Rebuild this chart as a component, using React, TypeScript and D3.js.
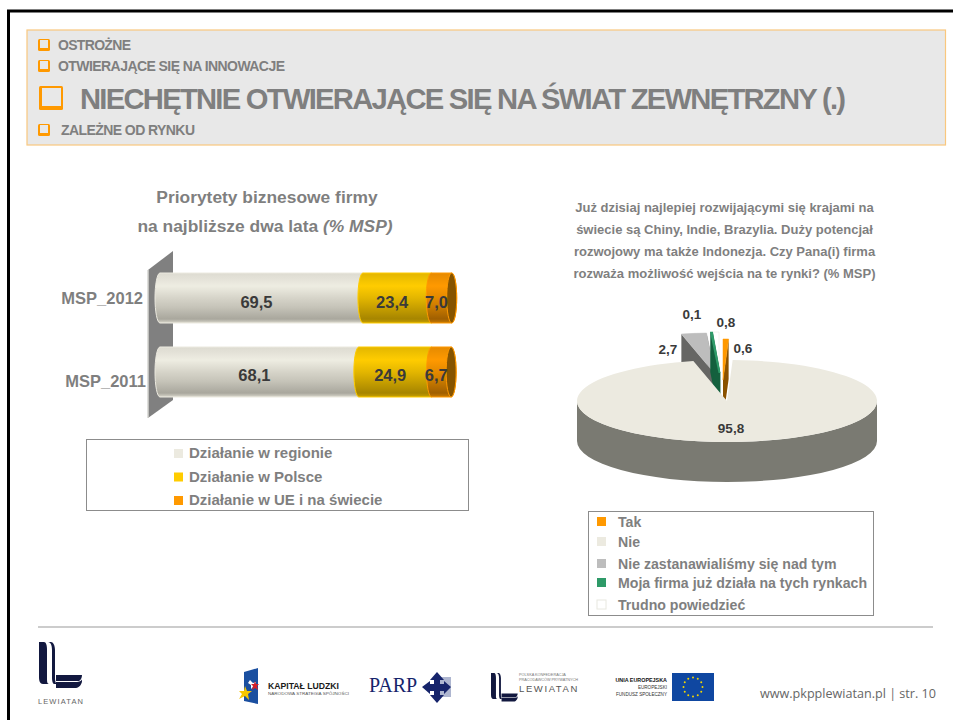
import React from "react";
import * as d3 from "d3";

const FONT = "'Liberation Sans', Arial, sans-serif";
const GREY = "#7f7f7f";
const DARK = "#3a3a3a";

// ---------- data ----------
const barCategories = ["MSP_2012", "MSP_2011"];
const barSeriesNames = ["Działanie w regionie", "Działanie w Polsce", "Działanie w UE i na świecie"];
const regionValues = [69.5, 68.1];
const polandValues = [23.4, 24.9];
const worldValues = [7.0, 6.7];

const pieNames = ["Tak", "Nie", "Nie zastanawialiśmy się nad tym", "Moja firma już działa na tych rynkach", "Trudno powiedzieć"];
const pieValues = [0.6, 95.8, 2.7, 0.1, 0.8];
const pieTopColors = ["#ff9900", "#eceae0", "#bdbdbd", "#2e9a68", "#ffffff"];
const pieSideColors = ["#8a5200", "#7a7a72", "#666664", "#14603e", "#eeeeee"];
const pieOffsets: [number, number][] = [[-4, -21], [0, 0], [-12, -27], [-7.5, -28], [-8, -28]];
const pieLabelPositions: [number, number][] = [[743, 348], [731, 428], [668, 349], [692, 314], [726, 322]];
const explodedOrder = [2, 4, 3, 0];

const headerLines = [
  { text: "OSTROŻNE", x: 58, end: 131, y: 50, size: 14, box: [38, 39, 12] },
  { text: "OTWIERAJĄCE SIĘ NA INNOWACJE", x: 58, end: 285, y: 71, size: 14, box: [38, 60, 12] },
  { text: "NIECHĘTNIE OTWIERAJĄCE SIĘ NA ŚWIAT ZEWNĘTRZNY (.)", x: 80, end: 846, y: 109, size: 29.2, box: [39, 86, 24] },
  { text: "ZALEŻNE OD RYNKU", x: 61, end: 195, y: 135, size: 14, box: [38, 124, 12] },
];
const rightTitle = [
  "Już dzisiaj najlepiej rozwijającymi się krajami na",
  "świecie są Chiny, Indie, Brazylia. Duży potencjał",
  "rozwojowy ma także Indonezja. Czy Pana(i) firma",
  "rozważa możliwość wejścia na te rynki? (% MSP)",
];
const barLegendColors = ["#eceae0", "#ffcc00", "#ff9900"];

// ---------- layout ----------
const x = d3.scaleLinear().domain([0, 100]).range([160, 452]);
const y = d3.scaleBand().domain(barCategories).range([273, 397]).paddingInner(0.324);
const capRx = 5;
const grads = [
  { id: "gGrey", stops: ["#dddbd1", "#e3e1d7", "#eeede2", "#d6d4c9", "#c6c4b9", "#a9a79d", "#d9d7cc"] },
  { id: "gYellow", stops: ["#e3b500", "#edbf00", "#ffcc00", "#e3b600", "#c9a100", "#a68500", "#c9a100"] },
  { id: "gOrange", stops: ["#e68a00", "#ef9000", "#ff9900", "#e38900", "#c97a00", "#a05f00", "#c97a00"] },
];
const gradOffsets = ["0%", "10%", "26%", "50%", "68%", "92%", "100%"];

const cx = 727, cy = 401, rx = 150, ry = 41, depth = 40;
const slices = d3.pie<number>().sort(null).startAngle(0).endAngle(2 * Math.PI)(pieValues);
const arcTop = d3.arc<d3.PieArcDatum<number>>().innerRadius(0).outerRadius(rx);
const px = (a: number) => cx + rx * Math.sin(a);
const py = (a: number) => cy - ry * Math.cos(a);

function wedgeSide(a: number, apexDepth: number) {
  const ex = px(a), ey = py(a);
  return `M${cx},${cy}L${ex},${ey}L${ex},${ey + apexDepth}L${cx},${cy + apexDepth}Z`;
}

function Bullet({ bx, by, s }: { bx: number; by: number; s: number }) {
  const t = s > 15 ? 3 : 2;
  return (
    <g>
      <rect x={bx} y={by} width={s} height={s} rx={1.5} fill="#ff9900" />
      <rect x={bx + t} y={by + t - 1} width={s - t * 2 + (s > 15 ? 1 : 0)} height={s - t * 2} fill="#e8e8e8" />
    </g>
  );
}

function LewiatanMark({ tx, ty, k }: { tx: number; ty: number; k: number }) {
  const c = "#12183f";
  return (
    <g transform={`translate(${tx},${ty}) scale(${k})`} fill={c}>
      <path d="M0,0h5c2,0,3,3,3,8v30c0,3,1,4,2,4h-6c-3,0-4-3-4-7z" />
      <path d="M6,0h3c2,0,4,3,4,8v28c0,3,1,6,2,6h-3c-1,0-2-3-2-6V8c0-4-1-8-4-8z" transform="translate(3,0)" />
      <path d="M17,33h26c0,2-1,5-3,6H17z" />
      <path d="M17,41h20c3,0,6-1,6-3v2c0,3-3,7-6,7H17z" transform="translate(0,-1)" />
    </g>
  );
}

export default function App() {
  const stacks = barCategories.map((c, i) => {
    const vals = [regionValues[i], polandValues[i], worldValues[i]];
    const ends = d3.cumsum(vals);
    return { c, vals, ends };
  });
  const bw = y.bandwidth();
  const stars = d3.range(12).map((i) => (i * Math.PI) / 6);

  return (
    <svg width={953} height={720} style={{ position: "absolute", left: 0, top: 0, background: "#fff" }} fontFamily={FONT}>
      <defs>
        {grads.map((g) => (
          <linearGradient key={g.id} id={g.id} x1="0" y1="0" x2="0" y2="1">
            {g.stops.map((s, i) => <stop key={i} offset={gradOffsets[i]} stopColor={s} />)}
          </linearGradient>
        ))}
      </defs>

      {/* slide frame */}
      <path d="M8.5,720V11H953" fill="none" stroke="#000" strokeWidth={3} />

      {/* header */}
      <rect x={27} y={30} width={918.5} height={115} fill="#e8e8e8" stroke="#f9c77e" strokeWidth={1.2} />
      {headerLines.map((h) => (
        <g key={h.text}>
          <Bullet bx={h.box[0]} by={h.box[1]} s={h.box[2]} />
          <text x={h.x} y={h.y} fontSize={h.size} fontWeight={700} fill={GREY} textLength={h.end - h.x} lengthAdjust="spacing">{h.text}</text>
        </g>
      ))}

      {/* left title */}
      <text x={267} y={203} textAnchor="middle" fontSize={17.4} fontWeight={700} fill={GREY}>Priorytety biznesowe firmy</text>
      <text x={265} y={232} textAnchor="middle" fontSize={17.4} fontWeight={700} fill={GREY}>
        na najbliższe dwa lata <tspan fontStyle="italic">(% MSP)</tspan>
      </text>

      {/* wall */}
      <polygon points="148,270 173,251 173,400 148,418" fill="#808080" />
      <line x1={148} y1={270} x2={148} y2={418} stroke="#d5d5d0" strokeWidth={1.5} />

      {/* cylinders */}
      {stacks.map((s) => {
        const top = y(s.c)!, bot = top + bw, ryc = bw / 2;
        const starts = [0, s.ends[0], s.ends[1]];
        const last = x(s.ends[2]);
        return (
          <g key={s.c}>
            {s.vals.map((v, j) => {
              const x0 = x(starts[j]), x1 = x(s.ends[j]);
              return (
                <path key={j}
                  d={`M${x0},${top}L${x1},${top}A${capRx},${ryc} 0 0 1 ${x1},${bot}L${x0},${bot}A${capRx},${ryc} 0 0 1 ${x0},${top}Z`}
                  fill={`url(#${grads[j].id})`}
                  stroke={["#eceae0", "#ffcc00", "#ff9900"][j]} strokeWidth={1} />
              );
            })}
            <ellipse cx={last} cy={(top + bot) / 2} rx={capRx} ry={ryc} fill="#865400" stroke="#ff9900" strokeWidth={1} />
          </g>
        );
      })}
      {stacks.map((s) => {
        const mid = y(s.c)! + bw / 2;
        const starts = [0, s.ends[0], s.ends[1]];
        return s.vals.map((v, j) => (
          <text key={s.c + j} x={x(starts[j] + v / 2) - 5} y={mid + 9.5} textAnchor="middle" fontSize={16.5} fontWeight={700} fill={DARK}>
            {v.toFixed(1).replace(".", ",")}
          </text>
        ));
      })}
      <text x={143} y={304} textAnchor="end" fontSize={16.5} fontWeight={700} fill={GREY}>{barCategories[0]}</text>
      <text x={146} y={387} textAnchor="end" fontSize={16.5} fontWeight={700} fill={GREY}>{barCategories[1]}</text>

      {/* left legend */}
      <rect x={86.5} y={439.5} width={382} height={71} fill="#fff" stroke="#8c8c8c" />
      {barSeriesNames.map((n, i) => (
        <g key={n}>
          <rect x={174} y={449 + i * 23.5} width={9} height={9} fill={barLegendColors[i]} />
          <text x={189} y={458 + i * 23.5} fontSize={15} fontWeight={700} fill={GREY}>{n}</text>
        </g>
      ))}

      {/* right title */}
      {rightTitle.map((t, i) => (
        <text key={t} x={724.5} y={212 + i * 22} textAnchor="middle" fontSize={13} fontWeight={700} fill={GREY}>{t}</text>
      ))}

      {/* pie: exploded slices */}
      {explodedOrder.map((i) => {
        const s = slices[i];
        const thin = i === 3;
        return (
          <g key={i} transform={`translate(${pieOffsets[i][0]},${pieOffsets[i][1]})`}>
            <path d={wedgeSide(s.startAngle, depth)} fill={pieSideColors[i]} stroke={thin ? pieSideColors[i] : "none"} strokeWidth={1.5} />
            <path d={wedgeSide(s.endAngle, depth)} fill={pieSideColors[i]} stroke={thin ? pieSideColors[i] : "none"} strokeWidth={1.5} />
            <path d={arcTop(s)!} transform={`translate(${cx},${cy}) scale(1,${ry / rx})`} fill={pieTopColors[i]}
              stroke={i === 4 ? "#e6e6e0" : pieTopColors[i]} strokeWidth={thin ? 2 : 0.8} />
          </g>
        );
      })}
      {/* pie: main slice */}
      <path d={`M${cx - rx},${cy}A${rx},${ry} 0 0 0 ${cx + rx},${cy}L${cx + rx},${cy + depth}A${rx},${ry} 0 0 1 ${cx - rx},${cy + depth}Z`} fill={pieSideColors[1]} />
      <path d={arcTop(slices[1])!} transform={`translate(${cx},${cy}) scale(1,${ry / rx})`} fill={pieTopColors[1]} />
      {pieValues.map((v, i) => (
        <text key={i} x={pieLabelPositions[i][0]} y={pieLabelPositions[i][1] + 5} textAnchor="middle" fontSize={13.5} fontWeight={700} fill={DARK}>
          {v.toFixed(1).replace(".", ",")}
        </text>
      ))}

      {/* right legend */}
      <rect x={588.5} y={511.5} width={285} height={104} fill="#fff" stroke="#8c8c8c" />
      {pieNames.map((n, i) => {
        const yy = [522, 542, 564, 583, 605][i];
        return (
          <g key={n}>
            <rect x={597} y={yy - 5} width={9} height={9} fill={pieTopColors[i]} stroke={i === 4 ? "#e8e8e0" : "none"} />
            <text x={618} y={yy + 5} fontSize={14.15} fontWeight={700} fill={GREY}>{n}</text>
          </g>
        );
      })}

      {/* footer */}
      <line x1={38} y1={627} x2={933} y2={627} stroke="#cccccc" strokeWidth={2} />
      <LewiatanMark tx={39} ty={642} k={1} />
      <text x={38} y={704} fontSize={7.5} fill="#666" letterSpacing={1.1}>LEWIATAN</text>

      {/* Kapitał Ludzki */}
      <path d="M244,672l14,-4v36l-14,-3z" fill="#1a4fa0" />
      <path d="M250,680l3,3 3,-1-1,3 2,2-4,0-2,2 0,-4-3,-2z" fill="#fff" />
      <path d="M245,686l2,5 5,0-4,3 1,6-4,-4-6,3 3,-5-3,-3h5z" fill="#f7c600" />
      <path d="M255,681l1,3h3l-2,2 1,4-3,-2-3,2 1,-4-2,-2h3z" fill="#d4202a" />
      <text x={268} y={689} fontSize={9.2} fontWeight={700} fill="#1a1a1a" textLength={71} lengthAdjust="spacingAndGlyphs">KAPITAŁ LUDZKI</text>
      <text x={268} y={695} fontSize={4.2} fill="#555" textLength={81} lengthAdjust="spacingAndGlyphs">NARODOWA STRATEGIA SPÓJNOŚCI</text>

      {/* PARP */}
      <text x={369} y={692} fontSize={20} fontFamily="'Liberation Serif', serif" fill="#16246b">PARP</text>
      <rect x={434} y={677} width={17} height={20} fill="#aeb6d0" />
      <path d="M437,672l7,8h-4v4h4v-3l7,6-7,7v-3h-4v4h4l-7,8-7,-8h4v-4h-4v3l-8,-7 8,-6v3h4v-4h-4z" fill="#16246b" />

      {/* Lewiatan confederation */}
      <LewiatanMark tx={491} ty={673} k={0.62} />
      <text x={519} y={676} fontSize={3.8} fill="#777">POLSKA KONFEDERACJA</text>
      <text x={519} y={681} fontSize={3.8} fill="#777">PRACODAWCÓW PRYWATNYCH</text>
      <text x={519} y={692} fontSize={9.5} fill="#555" letterSpacing={1.6}>LEWIATAN</text>

      {/* EU */}
      <text x={667} y={682} textAnchor="end" fontSize={5.4} fontWeight={700} fill="#111">UNIA EUROPEJSKA</text>
      <text x={667} y={689} textAnchor="end" fontSize={4.6} fill="#333">EUROPEJSKI</text>
      <text x={667} y={696} textAnchor="end" fontSize={4.6} fill="#333">FUNDUSZ SPOŁECZNY</text>
      <rect x={672} y={673} width={42} height={28} fill="#0f47a1" />
      {stars.map((a, i) => (
        <circle key={i} cx={693 + 9.5 * Math.sin(a)} cy={687 - 9.5 * Math.cos(a)} r={1} fill="#f2d600" />
      ))}

      <text x={936} y={698} textAnchor="end" fontSize={12.6} fontFamily="'Open Sans', 'DejaVu Sans', sans-serif" fill="#666">www.pkpplewiatan.pl | str. 10</text>
    </svg>
  );
}
